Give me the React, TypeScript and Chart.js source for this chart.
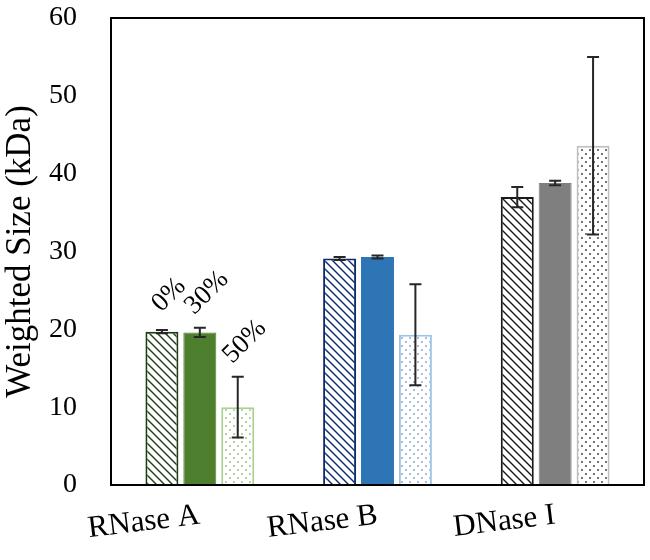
import React, { useEffect, useRef } from "react";
import { Chart, registerables } from "chart.js";

Chart.register(...registerables);

const categories = ["RNase A", "RNase B", "DNase I"];
const seriesNames = ["0%", "30%", "50%"];
const values0 = [19.7, 29.1, 37.0];
const errors0 = [0.2, 0.2, 1.3];
const values30 = [19.6, 29.3, 38.8];
const errors30 = [0.6, 0.2, 0.3];
const values50 = [10.0, 19.3, 43.6];
const errors50 = [3.9, 6.5, 11.4];
const yTicks = [0, 10, 20, 30, 40, 50, 60];

const SERIF = "'Liberation Serif', 'Times New Roman', serif";

function hatchPattern(color: string) {
  const c = document.createElement("canvas");
  c.width = 8;
  c.height = 8;
  const g = c.getContext("2d")!;
  g.fillStyle = "#ffffff";
  g.fillRect(0, 0, 8, 8);
  g.strokeStyle = color;
  g.lineWidth = 1.4;
  g.beginPath();
  g.moveTo(-1, -1);
  g.lineTo(9, 9);
  g.moveTo(-1, 7);
  g.lineTo(1, 9);
  g.moveTo(7, -1);
  g.lineTo(9, 1);
  g.stroke();
  return g.createPattern(c, "repeat")!;
}

function dotPattern(color: string) {
  const c = document.createElement("canvas");
  c.width = 8;
  c.height = 8;
  const g = c.getContext("2d")!;
  g.fillStyle = "#ffffff";
  g.fillRect(0, 0, 8, 8);
  g.fillStyle = color;
  g.beginPath();
  g.arc(2, 2, 0.9, 0, Math.PI * 2);
  g.arc(6, 6, 0.9, 0, Math.PI * 2);
  g.fill();
  return g.createPattern(c, "repeat")!;
}

const errorBarPlugin = {
  id: "errorBars",
  afterDatasetsDraw(chart: any) {
    const ctx = chart.ctx;
    const y = chart.scales.y;
    chart.data.datasets.forEach((ds: any, i: number) => {
      const meta = chart.getDatasetMeta(i);
      meta.data.forEach((bar: any, j: number) => {
        const v = ds.data[j];
        const e = ds.errors[j];
        const yTop = y.getPixelForValue(v + e);
        const yBot = y.getPixelForValue(v - e);
        ctx.save();
        ctx.strokeStyle = "#262626";
        ctx.lineWidth = 2;
        ctx.beginPath();
        ctx.moveTo(bar.x, yTop);
        ctx.lineTo(bar.x, yBot);
        ctx.moveTo(bar.x - 6, yTop);
        ctx.lineTo(bar.x + 6, yTop);
        ctx.moveTo(bar.x - 6, yBot);
        ctx.lineTo(bar.x + 6, yBot);
        ctx.stroke();
        ctx.restore();
      });
    });
  },
};

const framePlugin = {
  id: "frame",
  afterDraw(chart: any) {
    const { ctx, chartArea } = chart;
    ctx.save();
    ctx.strokeStyle = "#000";
    ctx.lineWidth = 2;
    ctx.strokeRect(chartArea.left, chartArea.top, chartArea.right - chartArea.left, chartArea.bottom - chartArea.top);
    ctx.restore();
  },
};

const seriesLabelPlugin = {
  id: "seriesLabels",
  afterDraw(chart: any) {
    const ctx = chart.ctx;
    const y = chart.scales.y;
    chart.data.datasets.forEach((ds: any, i: number) => {
      const bar = chart.getDatasetMeta(i).data[0];
      const top = y.getPixelForValue(ds.data[0] + ds.errors[0]);
      ctx.save();
      ctx.translate(bar.x + 7, top - 35);
      ctx.rotate(-Math.PI / 4);
      ctx.font = `27px ${SERIF}`;
      ctx.fillStyle = "#000";
      ctx.textAlign = "center";
      ctx.textBaseline = "middle";
      ctx.fillText(ds.label, 0, 0);
      ctx.restore();
    });
  },
};

export default function App() {
  const ref = useRef<HTMLCanvasElement>(null);

  useEffect(() => {
    const hatch0 = [hatchPattern("#1e3d14"), hatchPattern("#0d2a6e"), hatchPattern("#1a1a1a")];
    const dots50 = [dotPattern("#8fbf6f"), dotPattern("#7f9fcf"), dotPattern("#303030")];
    const chart = new Chart(ref.current!, {
      type: "bar",
      data: {
        labels: categories,
        datasets: [
          {
            label: seriesNames[0],
            data: values0,
            errors: errors0,
            backgroundColor: hatch0,
            borderColor: ["#1e3d14", "#0d2a6e", "#1a1a1a"],
            borderWidth: 2,
          } as any,
          {
            label: seriesNames[1],
            data: values30,
            errors: errors30,
            backgroundColor: ["#4e7f2e", "#2e75b6", "#7f7f7f"],
            borderColor: ["#4e7f2e", "#2e75b6", "#7f7f7f"],
            borderWidth: 1,
          } as any,
          {
            label: seriesNames[2],
            data: values50,
            errors: errors50,
            backgroundColor: dots50,
            borderColor: ["#a9d18e", "#9dc3e6", "#bfbfbf"],
            borderWidth: 2,
          } as any,
        ],
      },
      options: {
        responsive: false,
        animation: false,
        categoryPercentage: 0.64,
        barPercentage: 0.87,
        layout: { padding: { top: 18, right: 6, left: 0, bottom: 0 } },
        plugins: {
          legend: { display: false },
          tooltip: { enabled: false },
        },
        scales: {
          x: {
            grid: { display: false },
            border: { display: false },
            ticks: {
              color: "#000",
              font: { family: SERIF, size: 31 },
              minRotation: 7,
              maxRotation: 7,
              padding: 4,
            },
            afterFit: (s: any) => {
              s.height = 75;
              s.paddingLeft = 0;
              s.paddingRight = 0;
            },
          },
          y: {
            min: 0,
            max: 60,
            grid: { display: false },
            border: { display: false },
            afterBuildTicks: (s: any) => {
              s.ticks = yTicks.map((v) => ({ value: v }));
            },
            ticks: {
              color: "#000",
              font: { family: SERIF, size: 28 },
              padding: 26,
            },
            title: {
              display: true,
              text: "Weighted Size (kDa)",
              color: "#000",
              font: { family: SERIF, size: 35 },
              padding: 0,
            },
            afterFit: (s: any) => {
              s.width = 111;
              s.paddingTop = 0;
              s.paddingBottom = 0;
            },
          },
        },
      } as any,
      plugins: [errorBarPlugin, framePlugin, seriesLabelPlugin],
    });
    return () => chart.destroy();
  }, []);

  return (
    <div style={{ position: "absolute", left: 0, top: 0, width: 650, height: 560, background: "#fff" }}>
      <canvas ref={ref} width={650} height={560} style={{ display: "block" }} />
    </div>
  );
}
